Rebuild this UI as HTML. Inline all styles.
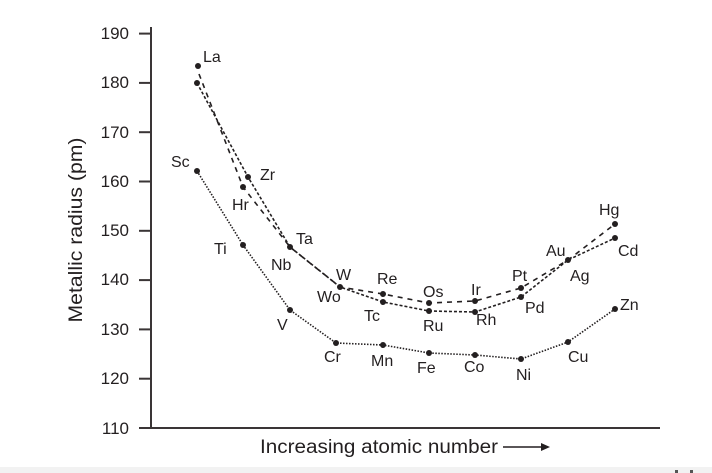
<!DOCTYPE html>
<html><head><meta charset="utf-8"><style>
html,body{margin:0;padding:0;background:#fff;width:712px;height:473px;overflow:hidden}
svg text{font-family:"Liberation Sans",sans-serif;fill:#231f20}
</style></head><body>
<svg width="712" height="473" viewBox="0 0 712 473" xmlns="http://www.w3.org/2000/svg">
<rect x="0" y="467" width="712" height="6" fill="#f2f2f2"/>
<rect x="675" y="470" width="3" height="3" fill="#555"/><rect x="690" y="470" width="3" height="3" fill="#555"/>
<g stroke="#3a3536" stroke-width="2">
<line x1="151" y1="27" x2="151" y2="429"/>
<line x1="139" y1="428" x2="660" y2="428"/>
<line x1="139" y1="33.6" x2="151" y2="33.6"/>
<line x1="139" y1="82.9" x2="151" y2="82.9"/>
<line x1="139" y1="132.2" x2="151" y2="132.2"/>
<line x1="139" y1="181.5" x2="151" y2="181.5"/>
<line x1="139" y1="230.8" x2="151" y2="230.8"/>
<line x1="139" y1="280.1" x2="151" y2="280.1"/>
<line x1="139" y1="329.4" x2="151" y2="329.4"/>
<line x1="139" y1="378.7" x2="151" y2="378.7"/>
</g>
<g font-size="17" text-anchor="end">
<text x="129" y="39">190</text><text x="129" y="88">180</text><text x="129" y="138">170</text>
<text x="129" y="187">160</text><text x="129" y="236">150</text><text x="129" y="285">140</text>
<text x="129" y="335">130</text><text x="129" y="384">120</text><text x="129" y="434">110</text>
</g>
<text transform="translate(82,230) rotate(-90)" font-size="19" text-anchor="middle" textLength="185" lengthAdjust="spacingAndGlyphs">Metallic radius (pm)</text>
<text x="260" y="453" font-size="19" textLength="238" lengthAdjust="spacingAndGlyphs">Increasing atomic number</text>
<line x1="503" y1="447" x2="543" y2="447" stroke="#231f20" stroke-width="1.5"/>
<polygon points="541,443 550,447 541,451" fill="#231f20"/>
<g fill="none" stroke="#231f20" stroke-width="1.6">
<polyline stroke-dasharray="1.5 1.5" points="197,171 243,245 290,310 336,343 383,345 429,353 475,355 521,359 568,342 615,309"/>
<polyline stroke-dasharray="3 2" points="197,83 248,177 290,247 340,287 383,302 429,311 475,312 521,297 568,260 615,238"/>
<polyline stroke-dasharray="5 5" points="199,74 243,187 290,247 340,287 383,294 429,303 475,301 521,288 568,260 615,224"/>
</g>
<g fill="#231f20">
<circle cx="197" cy="171" r="3"/><circle cx="243" cy="245" r="3"/><circle cx="290" cy="310" r="3"/><circle cx="336" cy="343" r="3"/><circle cx="383" cy="345" r="3"/><circle cx="429" cy="353" r="3"/><circle cx="475" cy="355" r="3"/><circle cx="521" cy="359" r="3"/><circle cx="568" cy="342" r="3"/><circle cx="615" cy="309" r="3"/>
<circle cx="197" cy="83" r="3"/><circle cx="248" cy="177" r="3"/><circle cx="290" cy="247" r="3"/><circle cx="340" cy="287" r="3"/><circle cx="383" cy="302" r="3"/><circle cx="429" cy="311" r="3"/><circle cx="475" cy="312" r="3"/><circle cx="521" cy="297" r="3"/><circle cx="568" cy="260" r="3"/><circle cx="615" cy="238" r="3"/>
<circle cx="198" cy="66" r="3"/><circle cx="243" cy="187" r="3"/><circle cx="383" cy="294" r="3"/><circle cx="429" cy="303" r="3"/><circle cx="475" cy="301" r="3"/><circle cx="521" cy="288" r="3"/><circle cx="615" cy="224" r="3"/>
</g>
<g font-size="16">
<text x="203" y="62">La</text><text x="171" y="167">Sc</text><text x="260" y="180">Zr</text><text x="232" y="210">Hr</text>
<text x="214" y="254">Ti</text><text x="296" y="244">Ta</text><text x="271" y="270">Nb</text>
<text x="336" y="280">W</text><text x="317" y="302">Wo</text><text x="277" y="330">V</text>
<text x="377" y="284">Re</text><text x="364" y="321">Tc</text><text x="423" y="297">Os</text><text x="423" y="331">Ru</text>
<text x="471" y="295">Ir</text><text x="476" y="325">Rh</text><text x="512" y="281">Pt</text><text x="525" y="313">Pd</text>
<text x="546" y="256">Au</text><text x="570" y="281">Ag</text><text x="599" y="215">Hg</text><text x="618" y="256">Cd</text>
<text x="620" y="310">Zn</text><text x="568" y="362">Cu</text><text x="324" y="362">Cr</text><text x="371" y="366">Mn</text>
<text x="417" y="373">Fe</text><text x="464" y="372">Co</text><text x="516" y="380">Ni</text>
</g>
</svg>
</body></html>
